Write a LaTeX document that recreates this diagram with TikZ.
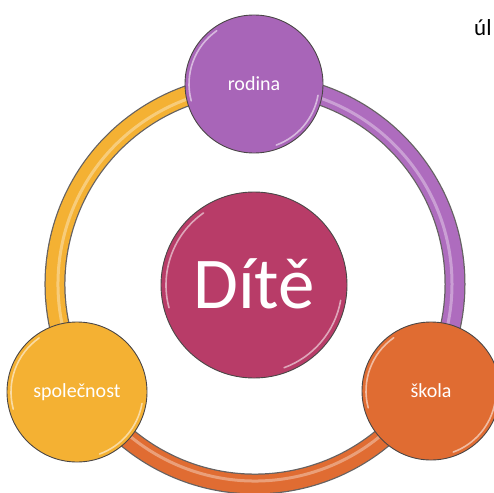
\documentclass[tikz,border=0pt]{standalone}
\usepackage{fontspec}
\setmainfont{Carlito}
\definecolor{cPurple}{HTML}{A865B8}
\definecolor{cPurpleT}{HTML}{AE6CBE}
\definecolor{cRose}{HTML}{B83C68}
\definecolor{cYellow}{HTML}{F4B133}
\definecolor{cOrange}{HTML}{E06C32}
\definecolor{cEdge}{HTML}{4A4646}
\begin{document}
\begin{tikzpicture}[x=1pt,y=-1pt,
  bubble/.style={circle, draw=cEdge, line width=0.9pt, inner sep=0pt,
    minimum size=#1, text=white},
  small/.style={font=\fontsize{20}{22}\selectfont},
  tubeout/.style={draw=cEdge!85, line width=21pt},
  tubein/.style={line width=18.5pt},
  tubehl/.style={line width=3pt, draw=white, opacity=0.35},
  hl/.style={draw=white, line width=1.6pt, opacity=0.55, line cap=round}]
\useasboundingbox (0,0) rectangle (494,492);
\coordinate (ring) at (255,284);
% ring segments
\foreach \a/\b/\c in {270/390/cPurpleT, 30/150/cOrange, 150/270/cYellow}{
  \draw[tubeout] ([shift={(\a:200)}]ring) arc[start angle=\a, end angle=\b, radius=200];
  \draw[tubein, draw=\c] ([shift={(\a:200)}]ring) arc[start angle=\a, end angle=\b, radius=200];
  \draw[tubehl] ([shift={(\a:197)}]ring) arc[start angle=\a, end angle=\b, radius=197];
}
% circles
\node[bubble=186pt, fill=cRose, font=\fontsize{73}{75}\selectfont, text height=47pt, text depth=0pt] (dite) at (254,285) {Dítě};
\node[bubble=138pt, fill=cPurple, small] (rodina) at (254,84) {rodina};
\node[bubble=140pt, fill=cYellow, small] (spol) at (77,392) {společnost};
\node[bubble=138pt, fill=cOrange, small] (skola) at (431,391) {škola};
% glossy highlights
\foreach \n/\r in {dite/88, rodina/65, spol/66, skola/65}{
  \draw[hl] ([shift={(165:\r)}]\n.center) arc[start angle=165, end angle=235, radius=\r];
  \draw[hl] ([shift={(10:\r)}]\n.center) arc[start angle=10, end angle=70, radius=\r];
}
% clipped heading text
\node[anchor=base west, inner sep=0pt, font=\fontsize{23}{26}\selectfont] (title) at (474,36) {úl};
\end{tikzpicture}
\end{document}
